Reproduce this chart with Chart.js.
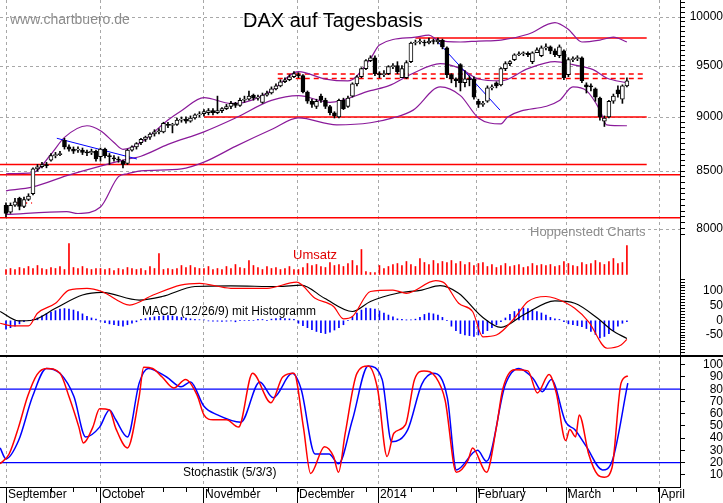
<!DOCTYPE html>
<html><head><meta charset="utf-8">
<script src="https://cdn.jsdelivr.net/npm/chart.js@4.4.1/dist/chart.umd.min.js"></script>
<style>
html,body{margin:0;padding:0;background:#fff;}
#wrap{position:relative;width:723px;height:503px;overflow:hidden;background:#fff;font-family:"Liberation Sans",Arial,sans-serif;}
canvas{position:absolute;left:0;}
.t{position:absolute;white-space:nowrap;line-height:1;}
</style></head><body>
<div id="wrap">
<canvas id="cMain" width="723" height="240" style="top:0"></canvas>
<canvas id="cVol" width="723" height="38" style="top:240px"></canvas>
<canvas id="cMacd" width="723" height="77" style="top:278px"></canvas>
<canvas id="cSto" width="723" height="148" style="top:355px"></canvas>
<div class="t" style="left:10px;top:12px;font-size:14px;color:#8c8c8c;">www.chartbuero.de</div>
<div class="t" style="left:243px;top:10px;font-size:20px;color:#000;">DAX auf Tagesbasis</div>
<div class="t" style="left:530px;top:225px;font-size:13px;color:#8c8c8c;">Hoppenstedt Charts</div>
<div class="t" style="left:293px;top:248px;font-size:13px;color:#e00000;">Umsatz</div>
<div class="t" style="left:142px;top:305px;font-size:12px;color:#000;">MACD (12/26/9) mit Histogramm</div>
<div class="t" style="left:183px;top:466px;font-size:12px;color:#000;">Stochastik (5/3/3)</div>
</div>
<script>
// ---------- DATA ----------
const monthPos = [0, 20.9, 43.8, 64.7, 82.7, 104.4, 124.4, 145.1];
const monthLabels = ["September","October","November","December","2014","February","March","April"];
const priceTicks = [8000, 8500, 9000, 9500, 10000];
const macdTicks = [-50, 0, 50, 100];
const stochTicks = [10,20,30,40,50,60,70,80,90,100];

const opens = [8200,8140,8200,8260,8190,8250,8300,8520,8540,8560,8600,8640,8650,8780,8720,8700,8690,8690,8670,8665,8680,
8630,8700,8640,8620,8610,8590,8570,8690,8720,8760,8790,8810,8840,8860,8860,8930,8920,8930,8970,8980,8960,8990,9020,
9030,9040,9060,9040,9060,9080,9100,9130,9110,9160,9170,9210,9180,9140,9210,9230,9270,9300,9340,9360,9390,
9410,9400,9240,9150,9100,9200,9160,9100,9040,9000,9160,9100,9200,9320,9390,9470,9550,9580,
9420,9410,9420,9490,9500,9380,9380,9540,9730,9740,9740,9730,9750,9740,9760,9680,9410,9370,9510,9330,9370,
9370,9150,9120,9150,9280,9330,9310,9470,9520,9560,9610,9620,9625,9540,9630,9600,9680,9690,9650,9600,
9650,9410,9560,9570,9580,9310,9300,9270,9180,8960,9000,9150,9260,9170,9300];
const closes = [8130,8200,8230,8190,8250,8280,8520,8540,8560,8550,8640,8650,8660,8720,8700,8680,8700,8670,8665,8680,8610,
8700,8640,8630,8610,8600,8560,8690,8720,8750,8790,8810,8840,8860,8870,8940,8920,8920,8970,8980,8960,8990,9020,9030,
9050,9060,9040,9060,9080,9100,9130,9110,9160,9170,9200,9180,9190,9210,9230,9270,9300,9340,9360,9390,9420,
9400,9240,9150,9120,9150,9160,9100,9040,9010,9160,9080,9180,9320,9390,9470,9550,9580,9420,
9410,9420,9490,9500,9440,9470,9530,9730,9740,9740,9730,9750,9745,9760,9690,9410,9370,9350,9330,9370,9360,
9190,9120,9130,9280,9290,9300,9470,9520,9540,9610,9620,9625,9610,9630,9660,9680,9690,9650,9610,9690,
9380,9560,9570,9580,9350,9290,9290,9190,9000,8990,9150,9200,9220,9300,9350];
const highs = [8220,8220,8260,8270,8270,8300,8530,8560,8580,8580,8660,8670,8680,8800,8740,8720,8720,8710,8690,8700,8690,
8710,8710,8660,8640,8630,8600,8700,8730,8760,8800,8820,8850,8880,8890,8950,8950,8940,8990,9000,9000,9010,9030,9050,
9070,9080,9080,9200,9090,9120,9150,9140,9180,9200,9250,9220,9210,9230,9250,9290,9320,9360,9380,9410,9440,
9430,9410,9250,9170,9170,9220,9180,9110,9050,9170,9180,9200,9330,9400,9480,9560,9600,9600,
9440,9450,9500,9520,9540,9500,9550,9740,9760,9770,9760,9780,9770,9780,9770,9690,9420,9380,9520,9450,9400,
9390,9170,9150,9300,9310,9340,9480,9540,9550,9620,9640,9640,9640,9640,9680,9700,9720,9700,9670,9710,
9660,9580,9590,9600,9590,9330,9320,9280,9190,9010,9160,9220,9300,9310,9380];
const lows = [8100,8130,8190,8160,8180,8240,8290,8500,8530,8530,8590,8620,8640,8700,8680,8660,8670,8650,8640,8650,8590,
8590,8620,8560,8590,8580,8530,8560,8680,8700,8740,8770,8790,8820,8840,8850,8900,8850,8920,8950,8940,8950,8980,9000,
9010,9020,9020,9030,9040,9070,9080,9090,9100,9140,9160,9160,9160,9130,9200,9220,9260,9290,9330,9350,9380,
9380,9230,9130,9090,9080,9140,9080,9020,8990,8990,9070,9090,9190,9300,9380,9460,9540,9400,
9380,9390,9410,9470,9420,9430,9370,9530,9710,9720,9700,9720,9720,9720,9670,9380,9330,9290,9250,9290,9300,
9170,9090,9100,9140,9260,9280,9300,9450,9500,9550,9600,9600,9590,9520,9630,9590,9660,9620,9590,9580,
9360,9390,9540,9550,9330,9230,9250,9150,8970,8910,8990,9130,9190,9130,9290];

const bandUpper = [[0,8477],[6,8485],[10,8653],[13,8808],[18,8917],[21,8870],[24,8761],[26,8698],[30,8761],[36,8972],[39,9060],[44,9186],[50,9130],[53,9140],[59,9253],[65,9440],[71,9367],[76,9348],[81,9570],[83,9710],[91,9790],[94,9810],[96,9760],[101,9740],[105,9750],[110,9760],[116,9820],[122,9941],[125,9870],[128,9740],[132,9760],[135,9790],[138,9740]];
const bandMiddle = [[0,8326],[6,8360],[13.5,8460],[21,8546],[27,8608],[30,8635],[36,8743],[44,8860],[51,8990],[59,9158],[65,9205],[72,9140],[81,9253],[85,9300],[90.5,9425],[96.5,9520],[101,9470],[105,9367],[110,9348],[116,9470],[122,9540],[126,9510],[130.5,9460],[133.5,9377],[138,9330]];
const bandLower = [[0,8121],[13.5,8145],[16,8129],[21,8185],[25,8451],[27,8477],[30,8502],[39,8520],[44,8581],[51,8725],[59,8881],[65,8991],[73.5,8926],[81,8945],[86,8991],[90.5,9065],[96.5,9290],[101,9205],[105,8991],[110,8935],[111.5,9000],[123,9158],[126,9290],[129,9253],[132,9065],[133.5,8926],[138,8917]];

const trendLine1 = [[11.3,8800],[29.1,8610]];
const trendLine2 = [[96,9740],[109.8,9065]];
// [level, startIndex, endIndex, dashed]
const redLevels = [[9780,91,142.4,0],[9000,44,142.4,0],[9417,60.4,142.4,1],[9373,60.4,142.4,1],[8561,-1.33,142.4,0],[8467,-1.33,149.8,0],[8092,-1.33,149.8,0],[8220,1.6,5.8,1]];

const volume = [5,6,5,7,6,8,6,9,6,5,7,6,8,5,31,7,6,8,6,5,6,
6,5,6,4,6,5,7,6,5,6,4,8,6,21,5,6,5,6,9,7,9,7,6,
6,8,5,6,5,8,6,10,7,6,14,9,7,5,8,6,7,5,6,8,5,
5,7,11,9,10,8,7,12,9,10,8,11,14,9,25,3,2,2,
9,6,8,10,11,9,13,10,8,16,12,10,14,11,13,12,14,11,13,10,12,
9,11,12,8,10,7,9,11,8,9,10,7,8,11,9,10,9,10,8,9,
13,11,9,8,12,10,11,14,12,10,13,16,11,12,29];

const macdLine = [[-1.3,-10],[1.7,-19],[5,-19],[7,24],[11,58],[14,103],[18,109],[21.3,98],[27.5,52],[32.7,86],[38.8,120],[43,126],[50,109],[58,109],[64.6,130],[68.7,75],[72.8,47],[75,5],[77,13],[81,98],[86,103],[89,92],[95.5,135],[97.5,126],[100.6,58],[103.7,30],[106,-56],[109,-50],[113,7],[116,64],[120,81],[122,75],[126.4,41],[129.5,-5],[133.6,-95],[136.7,-84],[138,-65]];
const signalLine = [[-1.3,30],[2.8,-2],[6,1],[11,41],[17,86],[21.3,95],[29.6,69],[34.7,81],[42,115],[50,117],[60.5,115],[65.6,120],[70.8,75],[77,30],[81,64],[87,92],[92.4,103],[96.5,118],[100.6,92],[105.8,12],[110,-24],[115,18],[122,66],[126.4,58],[131.5,7],[134.6,-33],[138,-62]];
const macdHist = [-30,-25,-20,-12,-5,0,3,8,15,22,28,33,38,40,38,35,30,22,14,8,4,
-3,-8,-12,-15,-18,-20,-15,-10,-5,3,6,9,12,14,15,16,15,13,10,8,5,3,2,
1,-2,-3,-3,-4,-3,-2,-5,0,0,0,0,3,3,0,4,6,7,6,5,3,
-10,-18,-25,-32,-38,-42,-45,-40,-33,-25,-15,0,12,25,35,42,40,38,
32,25,18,12,5,3,1,2,4,10,20,25,22,18,10,0,-20,-35,-45,-50,-52,
-55,-50,-45,-35,-25,-15,-5,8,20,30,38,42,40,36,30,25,18,10,5,3,
-5,-12,-15,-18,-22,-28,-38,-48,-60,-55,-45,-35,-20,-10,-5];

const stochK = [[-1.3,19],[0.7,27],[2.8,49],[4.8,74],[6.9,92],[9,97],[12,93],[14,74],[16.2,49],[17.2,36],[19.3,49],[20.8,64],[23,63],[24.4,48],[27,32],[29.6,74],[30.6,98],[32.6,97],[34.7,90],[37.3,81],[39.9,88],[42.5,75],[44,59],[46,55],[49,55],[51.7,49],[54.8,93],[58.9,69],[61.5,90],[64,93],[66.1,49],[67.7,11],[70.8,33],[72.8,25],[73.9,12],[75.4,44],[78,93],[80.5,99],[82.6,80],[84.7,25],[86.2,44],[88.8,51],[90.8,88],[92.9,95],[95.5,90],[97.6,71],[100.1,12],[102.7,22],[103.7,32],[106.8,12],[109,49],[110.4,80],[113,96],[116,95],[118.1,77],[120.7,92],[122.3,77],[124.4,38],[125.3,47],[126.6,41],[127.4,59],[129.5,27],[131.5,10],[133,8],[134.7,16],[136.7,85],[138.2,91]];
const stochD = [[-1.3,32],[0,23],[2.8,38],[5.9,74],[9,97],[12,93],[15.1,74],[17.7,41],[20.8,49],[23,63],[24.4,55],[27,41],[29.6,85],[31.6,97],[35.7,90],[38.9,82],[41,86],[44,66],[47,59],[52.2,53],[56.4,86],[59.4,73],[63.6,93],[65.6,80],[68.7,27],[71.8,27],[73.9,19],[77,55],[80.5,99],[83.6,88],[85.7,37],[89.3,47],[92.4,84],[95,93],[98.1,73],[100.1,14],[104.8,30],[106.8,21],[111,84],[114,97],[117.1,89],[119.2,78],[121.2,88],[124.4,53],[126.4,47],[129,33],[132.6,14],[134.7,21],[138.2,85]];
const stochLevels = [80, 20];

// ---------- HELPERS ----------
const FONT = "'Liberation Sans', Arial, sans-serif";
Chart.defaults.font.family = FONT;
const XMIN = -1.33, XMAX = 149.8;
const idx = closes.map((_, i) => i);
const pts = a => a.map(([x, y]) => ({x, y}));

function xScale(h) {
  return {type:'linear', min:XMIN, max:XMAX, offset:false, grid:{display:false, offset:false}, border:{display:false},
    ticks:{display:false}, afterFit(s){ s.height = h; s.paddingLeft = 0; s.paddingRight = 0; }};
}
function yScale(extra) {
  return Object.assign({position:'right', afterFit(s){ s.width = 43; s.paddingTop = 0; s.paddingBottom = 0; },
    border:{display:true, color:'#000', width:1},
    grid:{display:true, drawOnChartArea:false, tickLength:5, color:'#000'},
    ticks:{color:'#000', font:{size:12, family:FONT}, crossAlign:'far', padding:2}}, extra);
}
const monthGrid = {
  id:'monthGrid',
  beforeDatasetsDraw(chart, args, opts) {
    const {ctx, chartArea:a, scales:{x}} = chart;
    ctx.save();
    ctx.strokeStyle = '#a8a8a8'; ctx.lineWidth = 1; ctx.setLineDash([3,3]);
    monthPos.forEach(m => {
      const px = Math.round(x.getPixelForValue(m)) + 0.5;
      if (px < a.right) { ctx.beginPath(); ctx.moveTo(px, 0); ctx.lineTo(px, a.bottom); ctx.stroke(); }
    });
    if (opts.h) {
      const y = chart.scales.y;
      opts.h.forEach(v => { const py = Math.round(y.getPixelForValue(v)) + 0.5;
        ctx.beginPath(); ctx.moveTo(a.left, py); ctx.lineTo(a.right, py); ctx.stroke(); });
    }
    ctx.restore();
  }
};
const base = {responsive:false, animation:false, devicePixelRatio:1, events:[],
  layout:{padding:0}, plugins:{legend:{display:false}, tooltip:{enabled:false}}};
function lineDs(data, color, w, order, dash) {
  return {type:'line', data:pts(data), borderColor:color, borderWidth:w, pointRadius:0,
    cubicInterpolationMode:'monotone', order:order, borderDash:dash||[], fill:false};
}

// ---------- MAIN PRICE CHART ----------
const mainDs = [
  {type:'bar', data: idx.map(i => ({x:i, y:[opens[i], closes[i]]})),
    backgroundColor: idx.map(i => closes[i] >= opens[i] ? '#fff' : '#000'),
    borderColor:'#000', borderWidth:1, borderSkipped:false, barThickness:4, grouped:false, minBarLength:1, order:0},
  {type:'bar', data: idx.map(i => ({x:i, y:[lows[i], highs[i]]})),
    backgroundColor:'#000', barThickness:1, grouped:false, order:1},
  lineDs(bandUpper, '#8a1a9a', 1.2, 3),
  lineDs(bandMiddle, '#8a1a9a', 1.2, 3),
  lineDs(bandLower, '#8a1a9a', 1.2, 3),
  {type:'line', data:pts(trendLine1), borderColor:'#0000ff', borderWidth:1, pointRadius:0, order:2},
  {type:'line', data:pts(trendLine2), borderColor:'#0000ff', borderWidth:1, pointRadius:0, order:2},
];
redLevels.forEach(([v, s, e, d]) => mainDs.push({type:'line', data:[{x:s,y:v},{x:e,y:v}],
  borderColor:'#ff0000', borderWidth:1.5, pointRadius:0, borderDash: d ? [5,4] : [], order:4}));
const minorPrice = []; for (let v = 7950; v <= 10150; v += 50) minorPrice.push(v);
new Chart(document.getElementById('cMain'), {
  data:{datasets:mainDs},
  options:Object.assign({}, base, {
    plugins:{legend:{display:false}, tooltip:{enabled:false}, monthGrid:{h:priceTicks}},
    scales:{
      x:xScale(0),
      y:yScale({type:'logarithmic', min:7905, max:10181,
        afterBuildTicks(s){ s.ticks = minorPrice.map(v => ({value:v})); },
        grid:{display:true, drawOnChartArea:false, color:'#000', tickLength: 5},
        ticks:{color:'#000', font:{size:12, family:FONT}, crossAlign:'far', padding:2, autoSkip:false,
          callback: v => priceTicks.includes(v) ? String(v) : ''}})
    }}),
  plugins:[monthGrid]
});

// ---------- VOLUME ----------
new Chart(document.getElementById('cVol'), {
  data:{datasets:[{type:'bar', data: idx.map(i => ({x:i, y:volume[i]})), backgroundColor:'#ff0000', barThickness:1}]},
  options:Object.assign({}, base, {
    scales:{x:xScale(0), y:yScale({min:-3.5, max:34.5, grid:{display:false}, ticks:{display:false}})}}),
  plugins:[monthGrid]
});

// ---------- MACD ----------
const minorMacd = []; for (let v = -110; v <= 140; v += 10) minorMacd.push(v);
new Chart(document.getElementById('cMacd'), {
  data:{datasets:[
    {type:'bar', data: idx.map(i => ({x:i, y:macdHist[i]})), backgroundColor:'#0000ff', barThickness:1, order:3},
    lineDs(signalLine, '#000', 1.2, 2),
    lineDs(macdLine, '#ff0000', 1.2, 1)
  ]},
  options:Object.assign({}, base, {
    scales:{x:xScale(0), y:yScale({min:-118, max:144,
      afterBuildTicks(s){ s.ticks = minorMacd.map(v => ({value:v})); },
      ticks:{color:'#000', font:{size:12, family:FONT}, crossAlign:'far', padding:2, autoSkip:false,
        callback: v => macdTicks.includes(v) ? String(v) : ''}})}}),
  plugins:[monthGrid]
});

// ---------- STOCHASTIC ----------
const stoDs = [lineDs(stochD, '#0000ff', 1.5, 2), lineDs(stochK, '#ff0000', 1.5, 1)];
stochLevels.forEach(v => stoDs.push({type:'line', data:[{x:XMIN,y:v},{x:XMAX,y:v}], borderColor:'#0000ff', borderWidth:1.2, pointRadius:0, order:3}));
const frame = {
  id:'frame',
  afterDraw(chart) {
    const {ctx, chartArea:a, scales:{x}} = chart;
    ctx.save(); ctx.strokeStyle = '#000'; ctx.lineWidth = 2;
    ctx.beginPath(); ctx.moveTo(0, 1); ctx.lineTo(723, 1); ctx.stroke();
    ctx.lineWidth = 1;
    ctx.beginPath(); ctx.moveTo(0, a.bottom + 0.5); ctx.lineTo(a.right, a.bottom + 0.5); ctx.stroke();
    for (let i = 0; i <= 145; i += 5) {
      const px = Math.round(x.getPixelForValue(i)) + 0.5;
      ctx.beginPath(); ctx.moveTo(px, a.bottom); ctx.lineTo(px, a.bottom + 5); ctx.stroke();
    }
    monthPos.forEach(m => { const px = Math.round(x.getPixelForValue(m)) + 0.5;
      ctx.beginPath(); ctx.moveTo(px, a.bottom); ctx.lineTo(px, chart.height); ctx.stroke(); });
    ctx.restore();
  }
};
new Chart(document.getElementById('cSto'), {
  data:{datasets:stoDs},
  options:Object.assign({}, base, {
    scales:{
      x:{type:'linear', min:XMIN, max:XMAX, offset:false,
        afterFit(s){ s.height = 16; s.paddingLeft = 0; s.paddingRight = 0; },
        afterBuildTicks(s){ s.ticks = monthPos.map(v => ({value:v})); },
        border:{display:false}, grid:{display:false},
        ticks:{autoSkip:false, maxRotation:0, align:'start', labelOffset:2, padding:-8, color:'#000',
          font:{size:12, family:FONT},
          callback:(v, i) => monthLabels[i]}},
      y:yScale({min:0, max:108,
        afterBuildTicks(s){ s.ticks = stochTicks.map(v => ({value:v})); },
        ticks:{color:'#000', font:{size:12, family:FONT}, crossAlign:'far', padding:2, autoSkip:false}})
    }}),
  plugins:[monthGrid, frame]
});
</script>
</body></html>
